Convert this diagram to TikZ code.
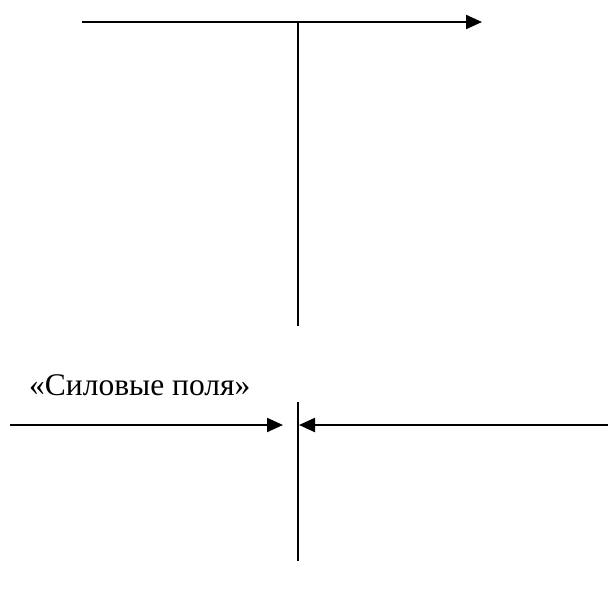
\documentclass[tikz,border=0pt]{standalone}
\usepackage{fontspec}
\setmainfont{Liberation Serif}
\usetikzlibrary{arrows.meta}
\begin{document}
\begin{tikzpicture}[x=1pt,y=-1pt,
  ln/.style={line width=2.2pt,black},
  arr/.style={ln,-{Triangle[length=16pt,width=14pt]}},
  lbl/.style={font=\fontsize{31.5}{34}\selectfont,inner sep=0pt,anchor=base west}]
\useasboundingbox (0,0) rectangle (608,590);
\coordinate (t1) at (82,22);
\coordinate (t2) at (482,22);
\coordinate (v1) at (298,22);
\coordinate (v2) at (298,326);
\coordinate (w1) at (298,402);
\coordinate (w2) at (298,561);
\coordinate (l1) at (10,425);
\coordinate (l2) at (283,425);
\coordinate (r1) at (608,425);
\coordinate (r2) at (299,425);
\draw[arr] (t1) -- (t2);
\draw[ln] (v1) -- (v2);
\draw[ln] (w1) -- (w2);
\draw[arr] (l1) -- (l2);
\draw[arr] (r1) -- (r2);
\node[lbl] (txt) at (29,395) {«Силовые поля»};
\end{tikzpicture}
\end{document}
